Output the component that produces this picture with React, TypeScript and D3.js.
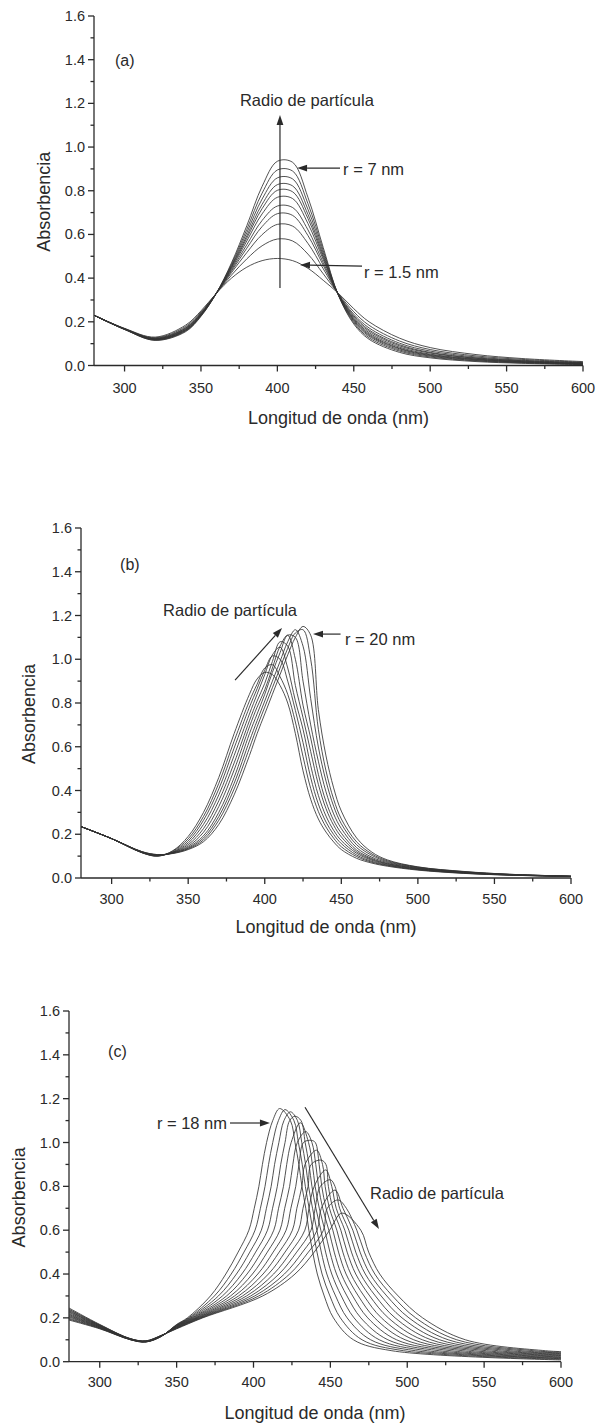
import React from "react";
import * as d3 from "d3";

type Pt = [number, number];

// ---------------- shared axis data ----------------
const X_DOMAIN: [number, number] = [280, 600];
const Y_DOMAIN: [number, number] = [0, 1.6];
const X_TICKS = [300, 350, 400, 450, 500, 550, 600];
const X_MINOR_TICKS = [325, 375, 425, 475, 525, 575];
const Y_TICKS = [0, 0.2, 0.4, 0.6, 0.8, 1.0, 1.2, 1.4, 1.6];
const Y_MINOR_TICKS = [0.1, 0.3, 0.5, 0.7, 0.9, 1.1, 1.3, 1.5];
const X_TITLE = "Longitud de onda (nm)";
const Y_TITLE = "Absorbencia";
const RADIO_LABEL = "Radio de partícula";

// ---------------- panel (a): r = 1.5 nm ... 7 nm ----------------
const A_WAVELENGTH = [280, 300, 320, 340, 350, 360, 370, 380, 390, 400, 410, 420, 430, 440, 450, 460, 480, 500, 530, 560, 600];
const A_ABSORBANCE = [
  [0.23, 0.17, 0.13, 0.185, 0.25, 0.33, 0.40, 0.45, 0.48, 0.49, 0.48, 0.445, 0.39, 0.33, 0.26, 0.20, 0.125, 0.082, 0.05, 0.032, 0.018],
  [0.23, 0.169, 0.127, 0.179, 0.245, 0.33, 0.414, 0.488, 0.548, 0.579, 0.57, 0.51, 0.42, 0.328, 0.246, 0.184, 0.112, 0.073, 0.044, 0.028, 0.015],
  [0.23, 0.168, 0.125, 0.174, 0.241, 0.33, 0.425, 0.517, 0.599, 0.646, 0.638, 0.559, 0.443, 0.326, 0.235, 0.172, 0.102, 0.066, 0.039, 0.024, 0.013],
  [0.23, 0.168, 0.123, 0.171, 0.238, 0.33, 0.432, 0.537, 0.636, 0.695, 0.687, 0.595, 0.459, 0.325, 0.228, 0.163, 0.095, 0.06, 0.035, 0.022, 0.012],
  [0.23, 0.167, 0.122, 0.169, 0.236, 0.33, 0.438, 0.553, 0.664, 0.73, 0.723, 0.621, 0.471, 0.325, 0.222, 0.157, 0.09, 0.057, 0.033, 0.02, 0.01],
  [0.23, 0.167, 0.121, 0.166, 0.234, 0.33, 0.444, 0.57, 0.694, 0.77, 0.764, 0.65, 0.485, 0.324, 0.216, 0.15, 0.084, 0.052, 0.03, 0.018, 0.009],
  [0.23, 0.167, 0.119, 0.164, 0.232, 0.33, 0.449, 0.583, 0.718, 0.802, 0.795, 0.673, 0.495, 0.323, 0.211, 0.144, 0.079, 0.049, 0.028, 0.017, 0.008],
  [0.23, 0.166, 0.119, 0.162, 0.231, 0.33, 0.453, 0.594, 0.738, 0.828, 0.822, 0.692, 0.504, 0.322, 0.207, 0.139, 0.076, 0.046, 0.026, 0.015, 0.007],
  [0.23, 0.166, 0.118, 0.16, 0.229, 0.33, 0.458, 0.608, 0.762, 0.859, 0.854, 0.715, 0.515, 0.322, 0.202, 0.134, 0.071, 0.043, 0.023, 0.014, 0.006],
  [0.23, 0.165, 0.116, 0.158, 0.227, 0.33, 0.464, 0.623, 0.789, 0.895, 0.89, 0.741, 0.527, 0.321, 0.196, 0.127, 0.066, 0.039, 0.021, 0.012, 0.005],
  [0.23, 0.165, 0.115, 0.155, 0.225, 0.33, 0.47, 0.64, 0.82, 0.935, 0.93, 0.77, 0.54, 0.32, 0.19, 0.12, 0.06, 0.035, 0.018, 0.01, 0.004],
];

// ---------------- panel (b): up to r = 20 nm ----------------
const B_WAVELENGTH = [280, 300, 320, 330, 340, 350, 360, 370, 380, 390, 395, 400, 405, 410, 415, 420, 425, 430, 435, 440, 445, 450, 460, 470, 480, 500, 530, 560, 600];
const B_ABSORBANCE = [
  [0.235, 0.18, 0.115, 0.10, 0.125, 0.19, 0.30, 0.46, 0.66, 0.84, 0.91, 0.94, 0.93, 0.88, 0.80, 0.66, 0.49, 0.36, 0.27, 0.21, 0.165, 0.13, 0.09, 0.068, 0.054, 0.036, 0.021, 0.013, 0.007],
  [0.235, 0.18, 0.115, 0.10, 0.123, 0.179, 0.281, 0.433, 0.626, 0.809, 0.886, 0.96, 0.975, 0.92, 0.84, 0.713, 0.555, 0.409, 0.304, 0.233, 0.182, 0.143, 0.098, 0.072, 0.057, 0.038, 0.022, 0.013, 0.007],
  [0.235, 0.18, 0.116, 0.101, 0.12, 0.169, 0.264, 0.407, 0.594, 0.781, 0.865, 0.95, 1.015, 1.0, 0.90, 0.766, 0.619, 0.459, 0.338, 0.256, 0.199, 0.157, 0.105, 0.076, 0.059, 0.039, 0.023, 0.014, 0.007],
  [0.235, 0.18, 0.116, 0.102, 0.118, 0.16, 0.245, 0.38, 0.56, 0.75, 0.84, 0.93, 1.02, 1.055, 0.96, 0.81, 0.68, 0.514, 0.378, 0.283, 0.218, 0.171, 0.113, 0.081, 0.062, 0.041, 0.024, 0.014, 0.007],
  [0.235, 0.18, 0.117, 0.103, 0.117, 0.152, 0.226, 0.353, 0.526, 0.719, 0.809, 0.89, 0.99, 1.08, 1.06, 0.88, 0.733, 0.578, 0.428, 0.317, 0.241, 0.188, 0.12, 0.085, 0.065, 0.043, 0.025, 0.015, 0.0075],
  [0.235, 0.18, 0.118, 0.104, 0.116, 0.145, 0.209, 0.327, 0.494, 0.691, 0.781, 0.86, 0.96, 1.06, 1.11, 1.0, 0.79, 0.64, 0.474, 0.349, 0.263, 0.205, 0.128, 0.089, 0.067, 0.044, 0.026, 0.015, 0.0075],
  [0.235, 0.18, 0.119, 0.105, 0.115, 0.14, 0.193, 0.30, 0.46, 0.66, 0.75, 0.84, 0.94, 1.03, 1.11, 1.10, 0.90, 0.70, 0.534, 0.394, 0.293, 0.226, 0.139, 0.095, 0.071, 0.046, 0.027, 0.016, 0.008],
  [0.235, 0.18, 0.119, 0.106, 0.114, 0.136, 0.183, 0.281, 0.433, 0.626, 0.719, 0.809, 0.90, 0.99, 1.08, 1.135, 1.06, 0.82, 0.599, 0.443, 0.328, 0.248, 0.152, 0.103, 0.075, 0.048, 0.028, 0.016, 0.008],
  [0.235, 0.18, 0.12, 0.107, 0.113, 0.133, 0.174, 0.264, 0.407, 0.594, 0.691, 0.781, 0.87, 0.96, 1.05, 1.12, 1.135, 1.0, 0.68, 0.49, 0.36, 0.27, 0.165, 0.11, 0.079, 0.05, 0.029, 0.017, 0.008],
  [0.235, 0.18, 0.12, 0.107, 0.112, 0.13, 0.166, 0.245, 0.38, 0.56, 0.66, 0.75, 0.84, 0.93, 1.02, 1.10, 1.15, 1.11, 0.77, 0.558, 0.412, 0.306, 0.183, 0.118, 0.083, 0.051, 0.03, 0.017, 0.008],
];

// ---------------- panel (c): from r = 18 nm upwards ----------------
const C_PEAK_WAVELENGTH = [417, 420.5, 424, 427, 430.5, 434, 437.5, 441, 444, 447, 450, 453, 455, 457.5];
const C_PEAK_ABSORBANCE = [1.155, 1.15, 1.14, 1.12, 1.09, 1.05, 1.01, 0.965, 0.92, 0.875, 0.83, 0.783, 0.738, 0.678];
const C_BASE_WAVELENGTH = [280, 300, 320, 330, 340, 350];
const C_BASE_ABSORBANCE = [
  [0.19, 0.15, 0.10, 0.09, 0.115, 0.17],
  [0.194, 0.152, 0.10, 0.09, 0.115, 0.168],
  [0.198, 0.153, 0.101, 0.091, 0.116, 0.167],
  [0.203, 0.155, 0.101, 0.091, 0.116, 0.165],
  [0.207, 0.156, 0.102, 0.092, 0.117, 0.164],
  [0.211, 0.158, 0.102, 0.092, 0.117, 0.162],
  [0.215, 0.159, 0.102, 0.092, 0.117, 0.161],
  [0.219, 0.161, 0.103, 0.093, 0.118, 0.159],
  [0.224, 0.162, 0.103, 0.093, 0.118, 0.158],
  [0.228, 0.164, 0.103, 0.093, 0.118, 0.156],
  [0.232, 0.165, 0.104, 0.094, 0.119, 0.155],
  [0.236, 0.167, 0.104, 0.094, 0.119, 0.153],
  [0.24, 0.168, 0.105, 0.095, 0.12, 0.152],
  [0.245, 0.17, 0.105, 0.095, 0.12, 0.15],
];
// wavelength where each curve crosses an absorbance level on the rising side
const C_LEFT_LEVELS = [0.2, 0.3, 0.4, 0.5, 0.6, 0.7, 0.8, 0.9, 1.0, 1.1];
const C_LEFT_WAVELENGTH = [
  [357, 357.8, 358.5, 359.3, 360.1, 360.8, 361.6, 362.4, 363.2, 363.9, 364.7, 365.5, 366.2, 367],
  [372, 374.6, 377.2, 379.8, 382.5, 385.1, 387.7, 390.3, 392.9, 395.5, 398.2, 400.8, 403.4, 406],
  [382, 385.5, 388.9, 392.4, 395.8, 399.3, 402.8, 406.2, 409.7, 413.1, 416.6, 420.1, 423.5, 427],
  [390, 393.8, 397.6, 401.4, 405.2, 409, 412.8, 416.7, 420.5, 424.3, 428.1, 431.9, 435.7, 439.5],
  [397, 401, 405.1, 409.1, 413.2, 417.2, 421.2, 425.3, 429.3, 433.4, 437.4, 441.4, 445.5, 449.5],
  [400.5, 404.5, 408.4, 412.4, 416.3, 420.3, 424.3, 428.2, 432.2, 436.1, 440.1, 444.1, 448],
  [403.5, 407.5, 411.5, 415.5, 419.5, 423.5, 427.5, 431.5, 435.5, 439.5, 443.5],
  [405.8, 409.8, 413.7, 417.7, 421.6, 425.6, 429.6, 433.5, 437.5],
  [408.5, 412.5, 416.5, 420.5, 424.5, 428.5, 432.5],
  [412.5, 416.2, 419.8, 423.5],
];
// wavelength where each curve crosses an absorbance level on the falling side
const C_RIGHT_LEVELS = [1.1, 1.0, 0.9, 0.8, 0.7, 0.6, 0.5, 0.4, 0.3, 0.2, 0.1, 0.05];
const C_RIGHT_WAVELENGTH = [
  [424, 426.3, 428.6, 430.9],
  [427, 429.2, 431.4, 433.6, 435.8, 438, 440.2],
  [429.5, 431.7, 433.9, 436.1, 438.3, 440.5, 442.7, 444.9, 447.1],
  [431.5, 433.7, 435.8, 438, 440.1, 442.3, 444.4, 446.6, 448.7, 450.9, 453],
  [434, 436.2, 438.4, 440.6, 442.8, 445, 447.2, 449.4, 451.6, 453.8, 456, 458.2, 460.4],
  [436, 438.6, 441.2, 443.8, 446.4, 449, 451.6, 454.2, 456.8, 459.4, 462, 464.6, 467.2, 469.8],
  [438.5, 441.3, 444.1, 446.9, 449.7, 452.5, 455.3, 458.1, 460.9, 463.7, 466.5, 469.3, 472.1, 474.9],
  [441.5, 444.6, 447.7, 450.9, 454, 457.1, 460.2, 463.3, 466.5, 469.6, 472.7, 475.8, 478.9, 482.1],
  [446, 449.7, 453.4, 457.1, 460.8, 464.5, 468.2, 471.9, 475.6, 479.3, 483, 486.7, 490.4, 494.1],
  [452, 456.5, 460.9, 465.4, 469.8, 474.3, 478.8, 483.2, 487.7, 492.1, 496.6, 501.1, 505.5, 510],
  [465, 470.6, 476.2, 481.8, 487.4, 493, 498.6, 504.2, 509.8, 515.4, 521, 526.6, 532.2, 537.8],
  [490, 497.7, 505.4, 513.1, 520.8, 528.5, 536.2, 543.9, 551.6, 559.3, 567, 574.7, 582.4, 590],
];
const C_END_WAVELENGTH = 600;
const C_END_ABSORBANCE = [0.008, 0.011, 0.014, 0.016, 0.019, 0.022, 0.025, 0.028, 0.031, 0.034, 0.037, 0.04, 0.043, 0.046];

// ---------------- build point lists ----------------
const gridCurves = (wl: number[], rows: number[][]): Pt[][] =>
  rows.map((row) => row.map((v, j) => [wl[j], v] as Pt));

const curvesA = gridCurves(A_WAVELENGTH, A_ABSORBANCE);
const curvesB = gridCurves(B_WAVELENGTH, B_ABSORBANCE);
const curvesC: Pt[][] = C_PEAK_WAVELENGTH.map((_, i) => {
  const pts: Pt[] = C_BASE_WAVELENGTH.map((w, j) => [w, C_BASE_ABSORBANCE[i][j]] as Pt);
  C_LEFT_LEVELS.forEach((lev, j) => {
    const w = C_LEFT_WAVELENGTH[j][i];
    if (w !== undefined) pts.push([w, lev]);
  });
  pts.push([C_PEAK_WAVELENGTH[i], C_PEAK_ABSORBANCE[i]]);
  C_RIGHT_LEVELS.forEach((lev, j) => {
    const w = C_RIGHT_WAVELENGTH[j][i];
    if (w !== undefined) pts.push([w, lev]);
  });
  pts.push([C_END_WAVELENGTH, C_END_ABSORBANCE[i]]);
  return pts.sort((a, b) => a[0] - b[0]);
});

// ---------------- layout ----------------
interface Note { s: string; at: Pt; anchor: "start" | "end" | "middle"; size: number }
interface Arrow { from: Pt; to: Pt }
interface PanelCfg {
  x0: number; x1: number; yTop: number; yBot: number;
  curves: Pt[][];
  notes: Note[];
  arrows: Arrow[];
  yTitleDx: number; yTitleDy: number; xTitleDy: number; xLabelDy: number;
}

const PANELS: PanelCfg[] = [
  {
    x0: 94, x1: 583, yTop: 16, yBot: 365.5,
    curves: curvesA,
    notes: [
      { s: "(a)", at: [293.7, 1.394], anchor: "start", size: 16 },
      { s: RADIO_LABEL, at: [375.5, 1.215], anchor: "start", size: 16.5 },
      { s: "r = 7 nm", at: [443, 0.899], anchor: "start", size: 16.5 },
      { s: "r = 1.5 nm", at: [456.7, 0.428], anchor: "start", size: 16.5 },
    ],
    arrows: [
      { from: [401.7, 0.355], to: [401.7, 1.147] },
      { from: [441, 0.904], to: [412.9, 0.904] },
      { from: [455.4, 0.455], to: [414.8, 0.46] },
    ],
    yTitleDx: -50, yTitleDy: 11, xTitleDy: 52.5, xLabelDy: 22,
  },
  {
    x0: 81, x1: 571, yTop: 528, yBot: 878,
    curves: curvesB,
    notes: [
      { s: "(b)", at: [305.5, 1.431], anchor: "start", size: 16 },
      { s: RADIO_LABEL, at: [333.6, 1.225], anchor: "start", size: 16.5 },
      { s: "r = 20 nm", at: [452.4, 1.093], anchor: "start", size: 16.5 },
    ],
    arrows: [
      { from: [380.6, 0.905], to: [411.3, 1.143] },
      { from: [449.5, 1.115], to: [431.5, 1.115] },
    ],
    yTitleDx: -52, yTitleDy: 11, xTitleDy: 49, xLabelDy: 21,
  },
  {
    x0: 69, x1: 561, yTop: 1011, yBot: 1361.7,
    curves: curvesC,
    notes: [
      { s: "(c)", at: [305.4, 1.413], anchor: "start", size: 16 },
      { s: "r = 18 nm", at: [382.8, 1.089], anchor: "end", size: 16.5 },
      { s: RADIO_LABEL, at: [475.8, 0.77], anchor: "start", size: 16.5 },
    ],
    arrows: [
      { from: [384.7, 1.089], to: [410.7, 1.089] },
      { from: [433.5, 1.161], to: [481.6, 0.605] },
    ],
    yTitleDx: -50, yTitleDy: 11, xTitleDy: 51, xLabelDy: 20,
  },
];

const FONT = "'Liberation Sans', Arial, Helvetica, sans-serif";
const INK = "#2a2a2a";
const CURVE = "#333333";

function Panel({ cfg }: { cfg: PanelCfg }) {
  const x = d3.scaleLinear().domain(X_DOMAIN).range([cfg.x0, cfg.x1]);
  const y = d3.scaleLinear().domain(Y_DOMAIN).range([cfg.yBot, cfg.yTop]);
  const line = d3
    .line<Pt>()
    .x((d) => x(d[0]))
    .y((d) => y(d[1]))
    .curve(d3.curveCatmullRom.alpha(0.5));
  const fmt = d3.format(".1f");
  const ax = x(X_DOMAIN[0]);
  const midY = (y(Y_DOMAIN[0]) + y(Y_DOMAIN[1])) / 2;

  return (
    <g>
      <g fill="none" stroke={CURVE} strokeWidth={0.85}>
        {cfg.curves.map((c, i) => (
          <path key={i} d={line(c) || ""} />
        ))}
      </g>

      <g stroke={INK} strokeWidth={1.3}>
        <line x1={ax} x2={ax} y1={y(Y_DOMAIN[0])} y2={y(Y_DOMAIN[1])} />
        <line x1={ax} x2={x(X_DOMAIN[1])} y1={y(0)} y2={y(0)} />
        {Y_TICKS.map((t) => (
          <line key={"y" + t} x1={ax - 6} x2={ax} y1={y(t)} y2={y(t)} />
        ))}
        {Y_MINOR_TICKS.map((t) => (
          <line key={"ym" + t} x1={ax - 3.5} x2={ax} y1={y(t)} y2={y(t)} />
        ))}
        {X_TICKS.map((t) => (
          <line key={"x" + t} x1={x(t)} x2={x(t)} y1={y(0)} y2={y(0) + 6} />
        ))}
        {X_MINOR_TICKS.map((t) => (
          <line key={"xm" + t} x1={x(t)} x2={x(t)} y1={y(0)} y2={y(0) + 3.5} />
        ))}
      </g>

      <g fill={INK} fontFamily={FONT} fontSize={14.5}>
        {Y_TICKS.map((t) => (
          <text key={"yl" + t} x={ax - 9} y={y(t)} textAnchor="end" dominantBaseline="central">
            {fmt(t)}
          </text>
        ))}
        {X_TICKS.map((t) => (
          <text key={"xl" + t} x={x(t)} y={y(0) + cfg.xLabelDy} textAnchor="middle" dominantBaseline="central">
            {t}
          </text>
        ))}
      </g>

      <text
        x={(x(X_DOMAIN[0]) + x(X_DOMAIN[1])) / 2}
        y={y(0) + cfg.xTitleDy}
        textAnchor="middle"
        dominantBaseline="central"
        fontFamily={FONT}
        fontSize={18}
        fill={INK}
      >
        {X_TITLE}
      </text>
      <text
        transform={`translate(${ax + cfg.yTitleDx},${midY + cfg.yTitleDy}) rotate(-90)`}
        textAnchor="middle"
        dominantBaseline="central"
        fontFamily={FONT}
        fontSize={18}
        fill={INK}
      >
        {Y_TITLE}
      </text>

      {cfg.notes.map((n, i) => (
        <text
          key={"n" + i}
          x={x(n.at[0])}
          y={y(n.at[1])}
          textAnchor={n.anchor}
          dominantBaseline="central"
          fontFamily={FONT}
          fontSize={n.size}
          fill={INK}
        >
          {n.s}
        </text>
      ))}
      {cfg.arrows.map((a, i) => {
        const x1 = x(a.from[0]), y1 = y(a.from[1]);
        const x2 = x(a.to[0]), y2 = y(a.to[1]);
        const ang = Math.atan2(y2 - y1, x2 - x1);
        const L = 10, Wd = 3.4;
        const bx = x2 - L * Math.cos(ang), by = y2 - L * Math.sin(ang);
        const px = -Math.sin(ang) * Wd, py = Math.cos(ang) * Wd;
        return (
          <g key={"a" + i}>
            <line x1={x1} y1={y1} x2={bx} y2={by} stroke={INK} strokeWidth={1.2} />
            <polygon points={`${x2},${y2} ${bx + px},${by + py} ${bx - px},${by - py}`} fill={INK} />
          </g>
        );
      })}
    </g>
  );
}

export default function App() {
  return (
    <svg
      width={597}
      height={1425}
      viewBox="0 0 597 1425"
      style={{ position: "absolute", left: 0, top: 0, background: "#ffffff" }}
    >
      <rect x={0} y={0} width={597} height={1425} fill="#ffffff" />
      {PANELS.map((p, i) => (
        <Panel key={i} cfg={p} />
      ))}
    </svg>
  );
}
